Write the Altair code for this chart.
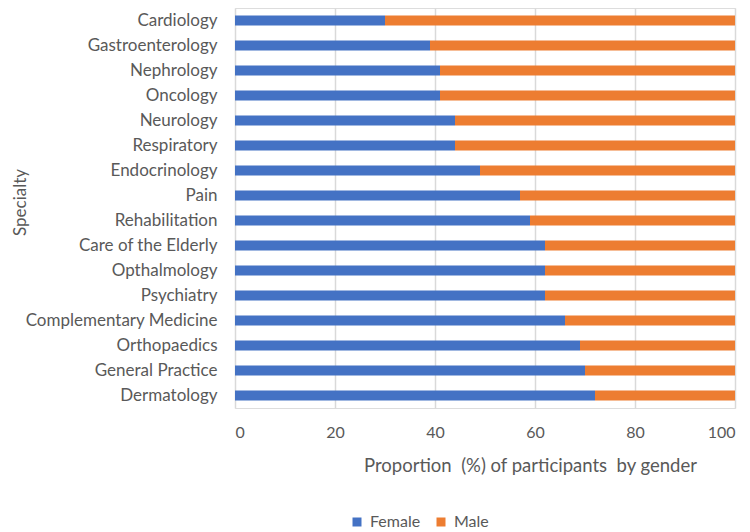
import altair as alt
import pandas as pd

specialties = ["Cardiology", "Gastroenterology", "Nephrology", "Oncology", "Neurology",
               "Respiratory", "Endocrinology", "Pain", "Rehabilitation", "Care of the Elderly",
               "Opthalmology", "Psychiatry", "Complementary Medicine", "Orthopaedics",
               "General Practice", "Dermatology"]
female = [30, 39, 41, 41, 44, 44, 49, 57, 59, 62, 62, 62, 66, 69, 70, 72]
male = [70, 61, 59, 59, 56, 56, 51, 43, 41, 38, 38, 38, 34, 31, 30, 28]
genders = ["Female", "Male"]
colors = ["#4472C4", "#ED7D31"]
x_title = "Proportion \u00a0(%) of participants \u00a0by gender"

rows = []
for s, f, m in zip(specialties, female, male):
    rows.append({"Specialty": s, "Gender": "Female", "Value": f, "ord": 0})
    rows.append({"Specialty": s, "Gender": "Male", "Value": m, "ord": 1})
df = pd.DataFrame(rows)

FONT = "Lato"
GRAY = "#595959"

chart = alt.Chart(df).mark_bar().encode(
    y=alt.Y("Specialty:N", sort=specialties,
            scale=alt.Scale(paddingInner=0.6, paddingOuter=0.3),
            axis=alt.Axis(title="Specialty", ticks=False, domain=False, grid=False,
                          labelFont=FONT, labelFontSize=17, labelColor=GRAY, labelPadding=18,
                          labelLimit=300,
                          titleFont=FONT, titleFontSize=17, titleColor=GRAY, titleFontWeight="normal",
                          titleX=-223, titleY=194, titleAngle=-90, titleAlign="center",
                          titleBaseline="top")),
    x=alt.X("Value:Q", stack="zero", scale=alt.Scale(domain=[0, 100], nice=False),
            axis=alt.Axis(title=x_title, values=[0, 20, 40, 60, 80, 100],
                          ticks=False, domain=False, grid=True, gridColor="#d9d9d9", gridWidth=1.5,
                          labelFont=FONT, labelFontSize=16, labelColor=GRAY, labelPadding=16,
                          titleFont=FONT, titleFontSize=18.5, titleColor=GRAY, titleFontWeight="normal",
                          titleX=295, titleY=48, titleBaseline="top", titleAlign="center")),
    color=alt.Color("Gender:N", scale=alt.Scale(domain=genders, range=colors),
                    legend=alt.Legend(title=None, orient="none", direction="horizontal",
                                      legendX=114, legendY=506, symbolType="square", symbolSize=81,
                                      symbolStrokeWidth=0, labelFont=FONT, labelFontSize=16,
                                      labelColor=GRAY, columnPadding=12, padding=0,
                                      labelOffset=5)),
    order=alt.Order("ord:Q"),
).properties(
    width=500, height=400,
    autosize=alt.AutoSizeParams(type="none"),
    padding={"left": 227, "top": 0, "right": 7, "bottom": 124},
).configure_view(stroke=None).configure(background="white")

chart.save("out.html", embed_options={"renderer": "svg", "actions": False})
